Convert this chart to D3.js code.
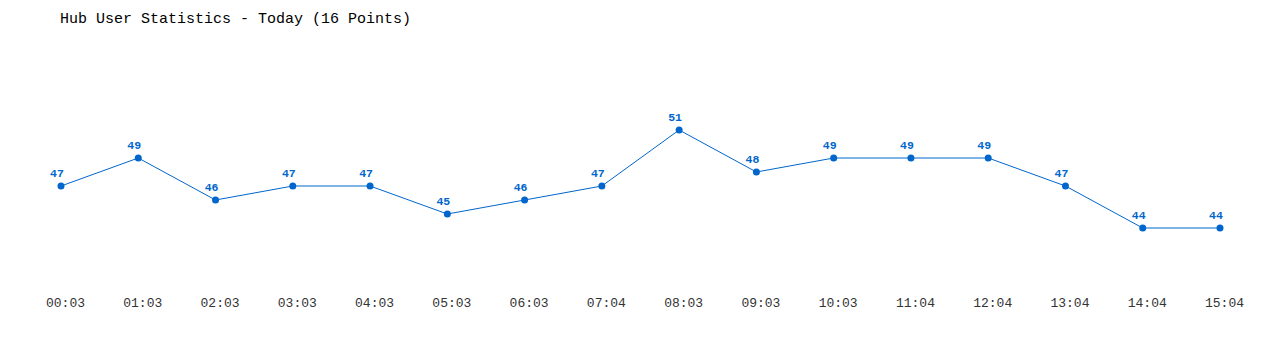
<!DOCTYPE html>
<html>
<head>
<meta charset="utf-8">
<script src="https://cdn.jsdelivr.net/npm/d3@7"></script>
<style>
  body { margin: 0; background: #fff; }
  svg text { font-family: "Liberation Mono", "DejaVu Sans Mono", monospace; }
</style>
</head>
<body>
<div id="chart"></div>
<script>
// data
var times = ["00:03", "01:03", "02:03", "03:03", "04:03", "05:03", "06:03", "07:04",
             "08:03", "09:03", "10:03", "11:04", "12:04", "13:04", "14:04", "15:04"];
var users = [47, 49, 46, 47, 47, 45, 46, 47, 51, 48, 49, 49, 49, 47, 44, 44];

var svgWidth = 1280;
var svgHeight = 350;
var blue = "#0066cc";

var svg = d3.select("#chart")
    .append("svg")
    .attr("width", svgWidth)
    .attr("height", svgHeight);

// title
svg.append("text")
    .attr("x", 60)
    .attr("y", 23)
    .attr("font-size", 15)
    .attr("fill", "#000")
    .text("Hub User Statistics - Today (16 Points)");

// scales
var xScale = d3.scalePoint()
    .domain(times)
    .range([61, 1220]);

var yScale = d3.scaleLinear()
    .domain([44, 51])
    .range([228, 130]);

// x axis, labels only
var xAxis = d3.axisBottom(xScale).tickSize(0).tickPadding(0);
var axisG = svg.append("g")
    .attr("transform", "translate(4, 298)")
    .call(xAxis);
axisG.select(".domain").remove();
axisG.selectAll("text")
    .attr("font-family", "\"Liberation Mono\", \"DejaVu Sans Mono\", monospace")
    .attr("font-size", 13)
    .attr("fill", "#333");

var points = times.map(function (t, i) { return { t: t, v: users[i] }; });

// line
var line = d3.line()
    .x(d => xScale(d.t))
    .y(d => yScale(d.v));

svg.append("path")
    .datum(points)
    .attr("d", line)
    .attr("fill", "none")
    .attr("stroke", blue)
    .attr("stroke-width", 1);

// dots
svg.selectAll("circle")
    .data(points)
    .enter()
    .append("circle")
    .attr("cx", d => xScale(d.t))
    .attr("cy", d => yScale(d.v))
    .attr("r", 3.5)
    .attr("fill", blue);

// value labels
svg.selectAll(".val")
    .data(points)
    .enter()
    .append("text")
    .attr("class", "val")
    .attr("x", d => xScale(d.t) - 4)
    .attr("y", d => yScale(d.v) - 9)
    .attr("text-anchor", "middle")
    .attr("font-family", "\"DejaVu Sans\", Verdana, sans-serif")
    .attr("font-weight", "bold")
    .attr("font-size", 11.5)
    .attr("fill", blue)
    .text(d => d.v);
</script>
</body>
</html>
